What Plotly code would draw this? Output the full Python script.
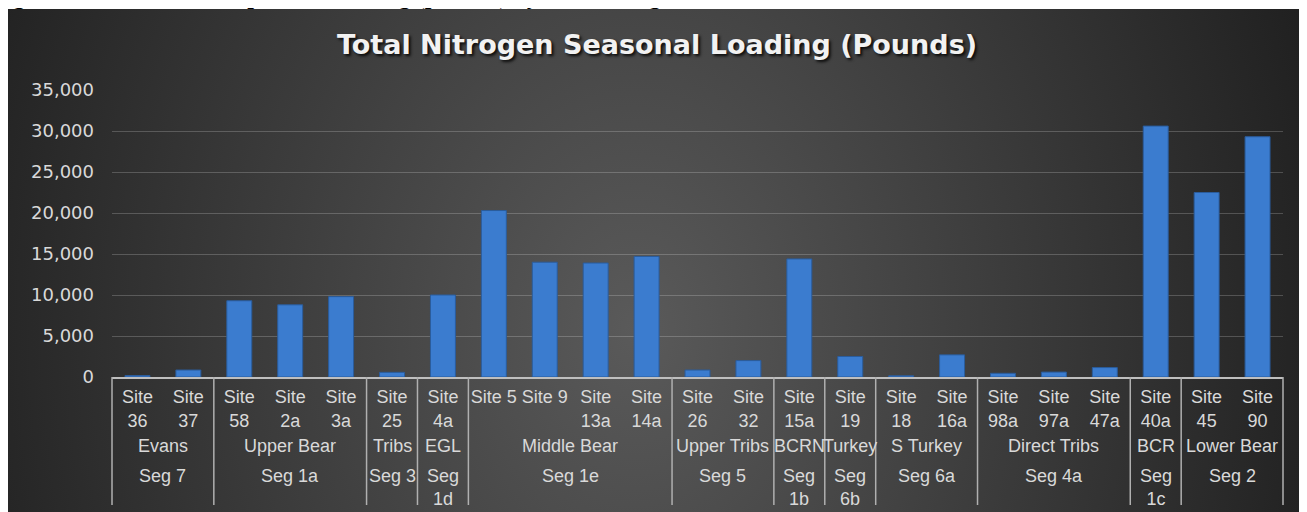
import base64
import plotly.graph_objects as go

# ---- data ----
sites = ["Site 36", "Site 37", "Site 58", "Site 2a", "Site 3a", "Site 25", "Site 4a",
         "Site 5", "Site 9", "Site 13a", "Site 14a", "Site 26", "Site 32", "Site 15a",
         "Site 19", "Site 18", "Site 16a", "Site 98a", "Site 97a", "Site 47a",
         "Site 40a", "Site 45", "Site 90"]
loading = [180, 850, 9300, 8800, 9800, 570, 10000,
           20300, 14000, 13900, 14700, 850, 2000, 14400,
           2500, 150, 2700, 450, 600, 1150,
           30600, 22500, 29300]
site_labels = ["Site<br>36", "Site<br>37", "Site<br>58", "Site<br>2a", "Site<br>3a", "Site<br>25",
               "Site<br>4a", "Site 5", "Site 9", "Site<br>13a", "Site<br>14a", "Site<br>26",
               "Site<br>32", "Site<br>15a", "Site<br>19", "Site<br>18", "Site<br>16a",
               "Site<br>98a", "Site<br>97a", "Site<br>47a", "Site<br>40a", "Site<br>45", "Site<br>90"]
regions = ["Evans", "Upper Bear", "Tribs", "EGL", "Middle Bear", "Upper Tribs", "BCRN",
           "Turkey", "S Turkey", "Direct Tribs", "BCR", "Lower Bear"]
segments = ["Seg 7", "Seg 1a", "Seg 3", "Seg<br>1d", "Seg 1e", "Seg 5", "Seg<br>1b",
            "Seg<br>6b", "Seg 6a", "Seg 4a", "Seg<br>1c", "Seg 2"]
group_sizes = [2, 3, 1, 1, 4, 2, 1, 1, 2, 3, 1, 2]
y_ticks = [0, 5000, 10000, 15000, 20000, 25000, 30000, 35000]

title_text = "Total Nitrogen Seasonal Loading (Pounds)"
caption_text = ("Figure 3-6&nbsp;&nbsp;&nbsp;&nbsp;&nbsp;&nbsp;&nbsp;Total Phosphorus Loading "
                "(pounds) by Stream Segment in the watershed")

# ---- layout geometry (figure pixels; page has an 8px body margin) ----
OFF = 8
W, H = 1307, 512
ML, MR, MT, MB = 112 - OFF, 32, 90 - OFF, 512 - (377 - OFF)
PW, PH = W - ML - MR, H - MT - MB
N = len(sites)


def px_x(p):
    """screen x -> paper x"""
    return (p - OFF - ML) / PW


def px_y(p):
    """screen y -> paper y"""
    return (H - MB - (p - OFF)) / PH


TXT = "#d9d9d9"
LBL_FONT = dict(family="Liberation Sans, Arial", size=18, color=TXT)

# background gradient as an SVG image
bg_x0, bg_y0 = -3, 1            # figure pixels
bg_w, bg_h = W - bg_x0, H - bg_y0
cx, cy = 632 - bg_x0 - 5, 330 - OFF - bg_y0
svg = (f'<svg xmlns="http://www.w3.org/2000/svg" width="{bg_w}" height="{bg_h}" '
       f'viewBox="0 0 {bg_w} {bg_h}" preserveAspectRatio="none"><defs>'
       f'<radialGradient id="g" gradientUnits="userSpaceOnUse" cx="0" cy="0" r="1" '
       f'gradientTransform="translate({cx} {cy}) scale(740 950)">'
       f'<stop offset="0" stop-color="#5a5a5a"/><stop offset="1" stop-color="#1e1e1e"/>'
       f'</radialGradient></defs><rect width="{bg_w}" height="{bg_h}" fill="url(#g)"/></svg>')
svg_uri = "data:image/svg+xml;base64," + base64.b64encode(svg.encode()).decode()

fig = go.Figure()
fig.add_trace(go.Bar(
    x=sites, y=loading,
    marker=dict(color="#3b7ccf", line=dict(color="#2a5c9c", width=1)),
    hoverinfo="x+y",
))

annotations = []
shapes = []
start = 0
bounds = [0]
for reg, seg, n in zip(regions, segments, group_sizes):
    center = start + (n - 1) / 2
    annotations.append(dict(x=center, xref="x", y=px_y(434), yref="paper",
                            text=reg, showarrow=False, yanchor="top", xanchor="center",
                            font=LBL_FONT))
    annotations.append(dict(x=center, xref="x", y=px_y(464), yref="paper",
                            text=seg, showarrow=False, yanchor="top", xanchor="center",
                            font=LBL_FONT))
    start += n
    bounds.append(start)

for b in bounds:
    xp = b / N
    shapes.append(dict(type="line", xref="paper", yref="paper", x0=xp, x1=xp,
                       y0=0, y1=px_y(505), line=dict(color="#b0b0b0", width=1.5),
                       layer="above"))

annotations.append(dict(text=caption_text, xref="paper", yref="paper",
                        x=px_x(-10), y=px_y(-4), xanchor="left", yanchor="middle",
                        showarrow=False,
                        font=dict(family="Liberation Serif, Times New Roman", size=24,
                                  color="black", weight="bold")))

fig.update_layout(
    template="none",
    width=W, height=H,
    margin=dict(l=ML, r=MR, t=MT, b=MB, autoexpand=False),
    paper_bgcolor="white",
    plot_bgcolor="rgba(0,0,0,0)",
    showlegend=False,
    bargap=0.51,
    font=dict(family="Liberation Sans, Arial", color=TXT),
    title=dict(text=title_text, x=(657 - OFF) / W, xref="container", xanchor="center",
               y=1 - (45 - OFF) / H, yref="container", yanchor="middle",
               font=dict(family="DejaVu Sans", size=27, color="#f2f2f2", weight="bold",
                         shadow="2px 2px 3px rgba(0,0,0,0.85)")),
    xaxis=dict(type="category", range=[-0.5, N - 0.5], tickvals=sites, ticktext=site_labels,
               tickfont=LBL_FONT, showgrid=False, showline=True, linecolor="#bfbfbf",
               linewidth=1.5, ticks="", ticklabelstandoff=3, automargin=False,
               zeroline=False, fixedrange=True),
    yaxis=dict(range=[0, 35000], tickvals=y_ticks, tickformat=",",
               tickfont=dict(family="DejaVu Sans", size=18, color=TXT),
               showgrid=True, gridcolor="rgba(255,255,255,0.2)", gridwidth=1,
               zeroline=False, showline=False, ticks="", ticklabelstandoff=17,
               automargin=False, fixedrange=True),
    images=[dict(source=svg_uri, xref="paper", yref="paper",
                 x=(bg_x0 - ML) / PW, y=(H - MB - bg_y0) / PH,
                 sizex=bg_w / PW, sizey=bg_h / PH, xanchor="left", yanchor="top",
                 sizing="stretch", layer="below")],
    annotations=annotations,
    shapes=shapes,
)

fig.write_html("out.html")
